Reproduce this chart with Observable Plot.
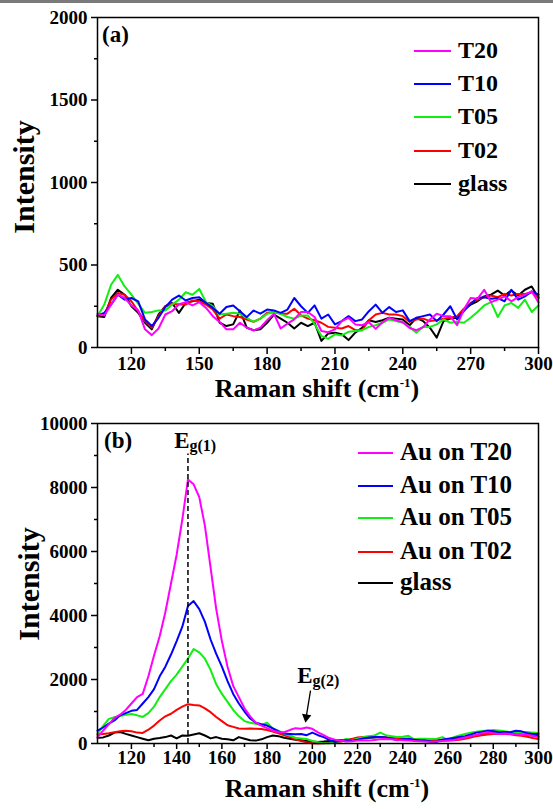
<!DOCTYPE html>
<html><head><meta charset="utf-8">
<script src="https://cdn.jsdelivr.net/npm/d3@7"></script>
<script src="https://cdn.jsdelivr.net/npm/@observablehq/plot@0.6"></script>
<style>
html,body{margin:0;padding:0;background:#fff;}
#wrap{position:relative;width:553px;height:809px;overflow:hidden;background:#fff;}
#topbar{position:absolute;left:0;top:0;width:553px;height:3px;background:#7a7a7a;}
#pa{position:absolute;left:0;top:0;}
#pb{position:absolute;left:0;top:400px;}
#ov{position:absolute;left:0;top:0;pointer-events:none;}
</style></head><body>
<div id="wrap"><div id="pa"></div><div id="pb"></div><svg id="ov" width="553" height="809"></svg><div id="topbar"></div></div>
<script>
const FONT = "'Liberation Serif','Times New Roman',serif";

// ---------- Panel (a) data ----------
const xA = [105,108,111,114,117,120,123,126,129,132,135,138,141,144,147,150,153,156,159,162,165,168,171,174,177,180,183,186,189,192,195,198,201,204,207,210,213,216,219,222,225,228,231,234,237,240,243,246,249,252,255,258,261,264,267,270,273,276,279,282,285,288,291,294,297,300];
const glassA = [190,185,300,350,320,250,210,150,110,200,250,270,210,270,280,290,270,265,150,130,140,224,120,105,110,150,200,175,150,115,150,130,150,40,85,90,80,45,90,120,165,155,165,180,175,170,135,180,160,120,60,160,175,180,230,260,280,310,320,345,315,345,315,350,370,300];
const t02A = [190,200,290,330,320,280,220,160,120,190,250,265,260,260,285,280,260,230,175,200,190,185,170,155,175,210,215,205,205,235,195,175,165,150,125,120,115,130,105,105,165,200,210,200,200,190,155,170,175,160,165,175,180,190,235,270,290,305,315,305,325,315,325,325,335,305];
const t05A = [190,260,380,440,370,320,265,210,215,225,225,260,290,335,320,355,275,250,200,205,210,204,180,155,175,204,214,204,185,175,194,194,143,70,52,80,73,95,100,105,125,135,150,170,160,150,125,90,125,125,140,170,150,155,150,180,215,255,275,185,255,270,240,290,215,255];
const t10A = [194,210,260,320,290,300,280,170,130,180,245,290,315,285,300,305,270,240,205,245,255,220,184,224,205,230,225,210,230,300,250,210,255,175,200,140,160,190,160,170,220,260,210,245,215,225,160,180,190,200,160,200,250,170,220,265,300,305,295,300,280,350,290,310,340,320];
const t20A = [204,194,260,320,300,255,225,110,75,115,200,220,262,275,255,275,240,190,155,110,110,150,120,103,120,165,205,115,145,170,215,215,185,100,93,110,160,180,140,135,153,113,153,180,165,153,118,105,123,170,205,190,190,135,230,300,295,350,275,290,310,280,305,320,340,274];

// ---------- Panel (b) data ----------
const xB = [105,107.5,110,112.5,115,117.5,120,122.5,125,127.5,130,132.5,135,137.5,140,142.5,145,147.5,150,152.5,155,157.5,160,162.5,165,167.5,170,172.5,175,177.5,180,182.5,185,187.5,190,192.5,195,197.5,200,202.5,205,207.5,210,212.5,215,217.5,220,222.5,225,227.5,230,232.5,235,237.5,240,242.5,245,247.5,250,252.5,255,257.5,260,262.5,265,267.5,270,272.5,275,277.5,280,282.5,285,287.5,290,292.5,295,297.5,300];
const t20B = [200,400,600,800,900,1050,1250,1450,1550,2100,2750,3350,4100,5000,5900,7000,8250,8100,7700,6800,5500,4200,3200,2400,1800,1450,1100,850,650,560,480,400,360,350,420,480,460,500,460,350,260,170,120,90,60,70,90,100,90,110,130,140,130,110,100,90,80,70,60,50,60,80,90,110,150,190,230,270,320,350,320,300,310,300,290,280,270,240,200];
const t10B = [400,500,620,720,880,950,1020,1050,1250,1450,1700,2100,2400,2780,3200,3650,4300,4450,4200,3800,3250,2800,2400,1950,1550,1250,1000,780,650,600,560,470,380,310,300,290,300,260,340,260,200,110,50,90,100,90,120,160,190,200,200,190,150,100,130,150,120,100,90,60,50,120,150,170,200,230,280,340,360,400,380,350,360,350,400,380,320,300,300];
const t05B = [300,550,770,820,860,900,920,880,830,950,1150,1450,1700,1950,2150,2400,2650,2950,2850,2650,2300,1850,1550,1300,1050,850,700,650,620,580,650,470,400,300,250,180,160,140,80,40,10,10,30,80,140,100,150,200,230,250,340,260,230,200,210,240,130,150,150,140,150,200,110,200,250,300,340,370,390,410,420,410,380,360,350,350,360,340,330];
const t02B = [280,300,320,350,380,400,380,340,330,430,560,720,850,930,1050,1150,1230,1200,1190,1100,980,830,700,570,520,470,460,470,460,450,420,370,320,260,200,130,80,40,10,0,5,20,40,60,90,140,190,200,210,200,200,195,160,150,150,145,140,110,95,90,90,95,95,100,120,150,190,230,260,280,300,300,300,290,260,240,210,170,140];
const glassB = [180,190,250,340,360,300,250,200,150,100,150,170,200,250,160,250,240,280,320,250,160,200,150,130,100,200,150,100,90,130,200,250,230,180,150,120,100,80,60,50,60,80,90,100,110,130,150,170,180,190,200,180,170,160,150,140,130,120,110,100,110,120,130,150,170,200,230,260,290,300,320,310,300,310,290,280,270,250,230];

// ---------- Series names, colours, ticks ----------
const seriesA = ["T20","T10","T05","T02","glass"];
const seriesB = ["Au on T20","Au on T10","Au on T05","Au on T02","glass"];
const colors = ["#ff00ff","#0000ff","#11ee11","#ff0000","#000000"];
const xTicksA = [120,150,180,210,240,270,300];
const xMinorA = [135,165,195,225,255,285];
const yTicksA = [0,500,1000,1500,2000];
const yMinorA = [250,750,1250,1750];
const xTicksB = [120,140,160,180,200,220,240,260,280,300];
const xMinorB = [110,130,150,170,190,210,230,250,270,290];
const yTicksB = [0,2000,4000,6000,8000,10000];
const yMinorB = [1000,3000,5000,7000,9000];

// annotations (panel b)
const peakX = [145.7, 200.1];
const peakY = [9220, 1900];
const peakMain = ["E","E"];
const peakSub = ["g(1)","g(2)"];
const eg1Line = [{x:145, y1:0, y2:9050}];
const eg2Arrow = [{x1:199.2, y1:1650, x2:197.4, y2:880}];
const eg2Head = [{x:197.3, y:820}];

function rows(xs, names, arrays) {
  const out = [];
  // draw order: glass first, magenta last
  for (let k = names.length - 1; k >= 0; k--) {
    arrays[k].forEach((v, i) => out.push({x: xs[i], y: v, s: names[k]}));
  }
  return out;
}
const dataA = rows(xA, seriesA, [t20A, t10A, t05A, t02A, glassA]);
const dataB = rows(xB, seriesB, [t20B, t10B, t05B, t02B, glassB]);

const baseStyle = {fontFamily: FONT, fontSize: "19px", fontWeight: "bold", background: "transparent", color: "black", overflow: "visible"};
const fmt = d3.format("d");

function axes(xt, xm, yt, ym, xTickSize, xPad) {
  return [
    Plot.axisX({ticks: xt, tickSize: xTickSize, tickPadding: xPad, tickFormat: fmt, label: null, strokeWidth: 1.5}),
    Plot.axisX({ticks: xm, tickSize: 4, tickFormat: () => "", label: null, strokeWidth: 1.5}),
    Plot.axisY({ticks: yt, tickSize: 6, tickPadding: 4, tickFormat: fmt, label: null, strokeWidth: 1.5}),
    Plot.axisY({ticks: ym, tickSize: 3, tickFormat: () => "", label: null, strokeWidth: 1.5})
  ];
}

const plotA = Plot.plot({
  width: 553, height: 400,
  marginLeft: 97, marginRight: 15, marginTop: 17, marginBottom: 53,
  x: {domain: [105, 300]},
  y: {domain: [0, 2000]},
  color: {domain: seriesA, range: colors},
  style: baseStyle,
  marks: [
    ...axes(xTicksA, xMinorA, yTicksA, yMinorA, 7, 2),
    Plot.line(dataA, {x: "x", y: "y", z: "s", stroke: "s", strokeWidth: 2, strokeLinejoin: "round"}),
    Plot.frame({stroke: "black", strokeWidth: 1.5})
  ]
});
document.getElementById("pa").appendChild(plotA);

const plotB = Plot.plot({
  width: 553, height: 409,
  marginLeft: 97, marginRight: 15, marginTop: 23, marginBottom: 66,
  x: {domain: [105, 300]},
  y: {domain: [0, 10000]},
  color: {domain: seriesB, range: colors},
  style: baseStyle,
  marks: [
    ...axes(xTicksB, xMinorB, yTicksB, yMinorB, 6, 1),
    Plot.line(dataB, {x: "x", y: "y", z: "s", stroke: "s", strokeWidth: 2, strokeLinejoin: "round"}),
    Plot.ruleX(eg1Line, {x: "x", y1: "y1", y2: "y2", stroke: "black", strokeWidth: 1.5, strokeDasharray: "5,3"}),
    Plot.link(eg2Arrow, {x1: "x1", y1: "y1", x2: "x2", y2: "y2", stroke: "black", strokeWidth: 1.3}),
    Plot.dot(eg2Head, {x: "x", y: "y", symbol: "triangle2", r: 4.5, fill: "black", stroke: "none", rotate: 189}),
    Plot.text(peakMain, {x: (d, i) => peakX[i], y: (d, i) => peakY[i], text: d => d, textAnchor: "end", lineAnchor: "bottom", fontSize: 23, fontWeight: "bold", fill: "black"}),
    Plot.text(peakSub, {x: (d, i) => peakX[i], y: (d, i) => peakY[i], text: d => d, textAnchor: "start", lineAnchor: "bottom", dy: 3, fontSize: 16, fontWeight: "bold", fill: "black"}),
    Plot.frame({stroke: "black", strokeWidth: 1.5})
  ]
});
document.getElementById("pb").appendChild(plotB);

// ---------- Overlay: titles, panel labels, legends ----------
const ov = d3.select("#ov").style("font-family", FONT).style("font-weight", "bold");

function legend(names, x1, x2, tx, ys, fs) {
  names.forEach((n, i) => {
    ov.append("line").attr("x1", x1).attr("x2", x2).attr("y1", ys[i]).attr("y2", ys[i])
      .attr("stroke", colors[i]).attr("stroke-width", 2.2);
    ov.append("text").attr("x", tx).attr("y", ys[i] + 6.5).attr("font-size", fs).text(n);
  });
}
legend(seriesA, 414, 451, 458, [51, 84, 117, 151, 184], 24);
legend(seriesB, 358, 393, 400, [453, 486, 518, 552, 583], 25);

ov.append("text").attr("x", 102).attr("y", 42).attr("font-size", 23).text("(a)");
ov.append("text").attr("x", 104).attr("y", 448).attr("font-size", 23).text("(b)");

function ytitle(cx, cy) {
  ov.append("text").attr("transform", `translate(${cx},${cy}) rotate(-90)`)
    .attr("text-anchor", "middle").attr("y", 6.6).attr("font-size", 30).text("Intensity");
}
ytitle(27, 177);
ytitle(32, 584);

function xtitle(cx, by) {
  const t = ov.append("text").attr("x", cx).attr("y", by).attr("text-anchor", "middle").attr("font-size", 26);
  t.append("tspan").text("Raman shift (cm");
  t.append("tspan").attr("font-size", 13).attr("dy", -10).text("-1");
  t.append("tspan").attr("dy", 10).text(")");
}
xtitle(317, 397);
xtitle(327, 797);
</script>
</body></html>
